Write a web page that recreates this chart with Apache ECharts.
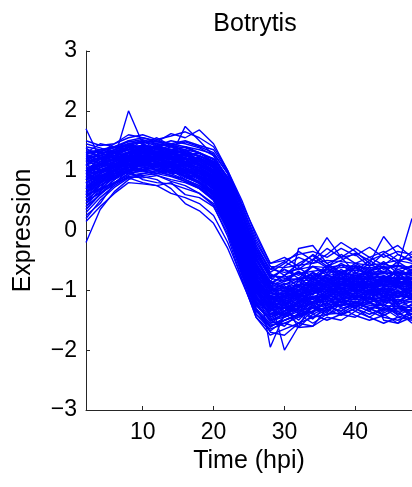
<!DOCTYPE html>
<html>
<head>
<meta charset="utf-8">
<script src="https://cdn.jsdelivr.net/npm/echarts@6/dist/echarts.min.js"></script>
<style>
html,body{margin:0;padding:0;background:#fff;}
#chart{width:412px;height:487px;}
</style>
</head>
<body>
<div id="chart"></div>
<script>
var times = [2,4,6,8,10,12,14,16,18,20,22,24,26,28,30,32,34,36,38,40,42,44,46,48];
var xTickValues = [10,20,30,40];
var yTickValues = [-3,-2,-1,0,1,2,3];

var profiles = [
[1.25,1.28,1.35,1.42,1.40,1.38,1.36,1.30,1.24,1.15,0.80,0.25,-0.40,-0.80,-0.85,-0.80,-0.75,-0.70,-0.68,-0.66,-0.70,-0.68,-0.72,-0.70],
[0.55,0.75,0.90,1.00,1.02,1.05,1.00,0.95,0.85,0.65,0.15,-0.55,-1.15,-1.40,-1.35,-1.25,-1.20,-1.15,-1.10,-1.08,-1.12,-1.15,-1.10,-1.12],
[0.95,1.05,1.12,1.20,1.25,1.22,1.18,1.12,1.05,0.92,0.50,-0.15,-0.80,-1.10,-1.12,-1.02,-0.98,-0.92,-0.90,-0.88,-0.92,-0.90,-0.88,-0.92],
[1.10,1.15,1.25,1.30,1.32,1.28,1.25,1.20,1.15,1.02,0.62,0.05,-0.60,-0.98,-1.02,-0.95,-0.90,-0.85,-0.80,-0.82,-0.80,-0.78,-0.82,-0.80],
[0.70,0.85,0.98,1.08,1.10,1.12,1.08,1.00,0.92,0.75,0.30,-0.38,-0.98,-1.25,-1.22,-1.15,-1.10,-1.05,-1.02,-1.00,-1.00,-1.02,-1.05,-1.00],
[1.70,1.20,1.25,1.35,1.38,1.30,1.28,1.22,1.10,0.98,0.55,-0.10,-0.75,-1.05,-1.08,-1.00,-0.92,-0.90,-0.85,-0.88,-0.85,-0.82,-0.80,-0.85],
[-0.20,0.35,0.65,0.85,0.95,1.00,0.98,0.92,0.80,0.62,0.20,-0.45,-1.05,-1.30,-1.28,-1.20,-1.12,-1.08,-1.05,-1.02,-1.05,-1.08,-1.05,-1.10],
[1.05,1.12,1.20,2.00,1.45,1.35,1.30,1.25,1.18,1.05,0.65,0.00,-0.65,-1.00,-1.00,-0.95,-0.90,-0.88,-0.85,-0.85,-0.88,-0.86,-0.84,-0.88],
[0.85,0.98,1.08,1.15,1.18,1.20,1.25,1.74,1.50,1.25,0.85,0.30,-0.35,-0.75,-0.80,-0.82,-0.78,-0.75,-0.72,-0.75,-0.72,-0.70,-0.75,-0.72],
[0.60,0.70,0.80,0.95,0.90,0.85,0.70,0.45,0.33,0.12,-0.30,-0.85,-1.40,-1.60,-1.50,-1.42,-1.35,-1.30,-1.25,-1.22,-1.28,-1.32,-1.30,-1.28],
[1.30,1.35,1.40,1.48,1.52,1.45,1.40,1.35,1.30,1.20,0.90,0.35,-0.25,-0.65,-0.70,-0.65,-0.60,-0.62,-0.58,-0.60,-0.62,-0.60,-0.58,-0.62],
[0.40,0.60,0.80,0.95,1.00,1.02,0.98,0.90,0.78,0.58,0.05,-0.65,-1.25,-1.50,-1.45,-1.35,-1.28,-1.22,-1.18,-1.15,-1.18,-1.20,-1.22,-1.18],
[1.00,1.08,1.15,1.22,1.28,1.30,1.22,1.15,1.10,0.95,0.52,-0.18,-0.85,-1.18,-1.15,-1.08,-1.02,-0.98,-0.95,-0.92,-0.95,-0.98,-0.95,-0.92],
[0.80,0.95,1.05,1.12,1.15,1.18,1.12,1.08,0.98,0.85,0.40,-0.25,-0.88,-1.15,-1.18,-1.10,-1.05,-1.00,-0.98,-0.95,-0.95,-0.92,-0.95,-0.98],
[1.15,1.20,1.28,1.35,1.35,1.32,1.28,1.25,1.20,1.08,0.70,0.10,-0.55,-0.92,-0.95,-0.90,-0.85,-0.80,-0.78,-0.75,-0.78,-0.76,-0.80,-0.78],
[0.50,0.70,0.88,1.00,1.05,1.08,1.05,1.00,0.90,0.72,0.25,-0.45,-1.10,-1.38,-1.40,-1.30,-1.22,-1.18,-1.12,-1.10,-1.15,-1.12,-1.18,-1.15],
[0.90,1.02,1.10,1.16,1.18,1.15,1.12,1.08,1.00,0.86,0.42,-0.22,-0.85,-1.12,-2.00,-1.60,-1.20,-1.05,-1.00,-0.98,-1.00,-0.98,-1.02,-1.00],
[1.20,1.25,1.30,1.35,1.30,1.28,1.25,1.18,1.12,0.98,0.60,-0.05,-0.70,-1.95,-1.40,-1.20,-1.00,-0.95,-0.92,-0.90,-0.88,-0.90,-0.92,-0.90],
[0.75,0.88,1.00,1.10,1.12,1.10,1.05,0.98,0.90,0.78,0.35,-0.30,-0.95,-1.25,-1.20,-0.30,-0.25,-0.55,-0.70,-0.75,-0.80,-0.78,-0.82,-0.80],
[1.05,1.10,1.18,1.25,1.22,1.25,1.20,1.12,1.05,0.90,0.48,-0.12,-0.78,-1.08,-1.05,-0.95,-0.50,-0.12,-0.45,-0.70,-0.75,-0.72,-0.70,-0.75],
[0.65,0.82,0.95,1.05,1.08,1.10,1.05,1.00,0.95,0.80,0.38,-0.28,-0.90,-1.20,-1.25,-1.62,-1.60,-1.30,-1.15,-1.10,-1.12,-1.15,-1.10,-1.12],
[1.00,1.08,1.15,1.20,1.22,1.20,1.15,1.12,1.05,0.90,0.48,-0.18,-0.80,-1.10,-1.10,-1.05,-1.00,-0.95,-0.90,-0.60,-0.75,-0.90,-0.60,0.20],
[0.85,0.95,1.05,1.15,1.18,1.15,1.10,1.05,0.98,0.85,0.45,-0.20,-0.82,-1.15,-1.12,-1.05,-1.02,-0.98,-0.95,-0.92,-0.95,-1.50,-1.55,-1.30],
[1.35,1.30,1.32,1.40,1.42,1.40,1.35,1.30,1.25,1.10,0.72,0.15,-0.50,-0.88,-0.90,-0.85,-0.82,-0.78,-0.75,-0.72,-0.75,-0.72,-0.70,-0.72],
[0.45,0.65,0.85,0.98,1.02,1.05,1.00,0.92,0.82,0.65,0.20,-0.50,-1.12,-1.40,-1.38,-1.28,-1.22,-1.18,-1.15,-1.12,-1.15,-1.18,-1.15,-1.20],
[0.95,1.00,1.08,1.15,1.20,1.25,1.22,1.15,1.08,0.95,0.55,-0.08,-0.72,-1.05,-1.08,-1.00,-0.95,-0.90,-0.88,-0.88,-0.90,-0.88,-0.86,-0.90],
[1.12,1.18,1.22,1.28,1.30,1.35,1.30,1.25,1.18,1.05,0.68,0.08,-0.58,-0.95,-0.98,-0.92,-0.88,-0.85,-0.82,-0.80,-0.82,-0.85,-0.82,-0.80],
[0.72,0.90,1.02,1.10,1.12,1.12,1.08,1.02,0.92,0.78,0.32,-0.35,-0.98,-1.28,-1.30,-1.20,-1.15,-1.10,-1.05,-1.05,-1.08,-1.05,-1.08,-1.05],
[0.30,0.55,0.75,0.90,0.95,0.98,0.92,0.85,0.72,0.52,0.02,-0.70,-1.30,-1.55,-1.50,-1.40,-1.30,-1.25,-1.20,-1.18,-1.22,-1.25,-1.28,-1.25],
[1.40,1.35,1.38,1.45,1.50,1.48,1.45,1.40,1.35,1.28,0.95,0.40,-0.20,-0.60,-0.62,-0.58,-0.55,-0.50,-0.52,-0.55,-0.58,-0.55,-0.50,-0.55],
[0.88,0.98,1.08,1.18,1.20,1.18,1.15,1.10,1.02,0.88,0.45,-0.22,-0.85,-1.12,-1.15,-1.08,-1.02,-0.98,-0.95,-0.92,-0.92,-0.95,-0.92,-0.95],
[1.02,1.10,1.18,1.22,1.25,1.22,1.18,1.12,1.05,0.92,0.50,-0.15,-0.80,-1.12,-1.10,-1.02,-0.98,-0.92,-0.88,-0.90,-0.88,-0.85,-0.88,-0.86],
[0.62,0.80,0.92,1.02,1.05,1.08,1.02,0.95,0.88,0.70,0.28,-0.40,-1.02,-1.32,-1.30,-1.22,-1.18,-1.12,-1.08,-1.05,-1.08,-1.10,-1.08,-1.12],
[1.22,1.25,1.32,1.38,1.40,1.38,1.32,1.28,1.20,1.08,0.68,0.05,-0.62,-0.98,-1.00,-0.92,-0.88,-0.82,-0.80,-0.78,-0.80,-0.78,-0.80,-0.82],
[0.80,0.92,1.02,1.12,1.15,1.15,1.10,1.05,0.95,0.82,0.38,-0.28,-0.92,-1.20,-1.18,-1.12,-1.05,-1.02,-0.98,-0.95,-0.98,-1.00,-0.98,-0.96],
[0.98,1.05,1.15,1.25,1.28,1.25,1.20,1.15,1.08,0.95,0.55,-0.10,-0.75,-1.05,-1.05,-0.98,-0.92,-0.88,-0.85,-0.85,-0.85,-0.82,-0.85,-0.88],
[0.20,0.50,0.72,0.88,0.92,0.95,0.90,0.82,0.70,0.50,0.00,-0.72,-1.35,-1.58,-1.55,-1.45,-1.35,-1.28,-1.25,-1.20,-1.25,-1.30,-1.35,-1.32],
[1.28,1.32,1.38,1.42,1.48,1.45,1.42,1.38,1.30,1.18,0.82,0.25,-0.38,-0.75,-0.78,-0.72,-0.68,-0.65,-0.62,-0.60,-0.65,-0.62,-0.60,-0.65],
[0.92,1.00,1.12,1.18,1.22,1.18,1.12,1.08,1.00,0.85,0.42,-0.25,-0.88,-1.15,-1.12,-1.05,-1.00,-0.95,-0.92,-0.90,-0.90,-0.92,-0.90,-0.88],
[0.70,0.82,0.95,1.05,1.08,1.08,1.02,0.98,0.90,0.75,0.32,-0.35,-1.00,-1.28,-1.25,-1.18,-1.12,-1.08,-1.02,-1.00,-1.02,-1.05,-1.02,-1.05],
[1.10,1.00,1.05,1.20,1.30,1.15,1.05,0.90,0.80,0.65,0.20,-0.50,-1.20,-1.35,-1.10,-0.85,-0.70,-0.80,-0.95,-1.10,-1.05,-0.85,-0.95,-1.00],
[0.55,0.85,1.10,1.25,1.20,1.30,1.35,1.40,1.30,1.15,0.75,0.10,-0.60,-0.90,-1.25,-1.35,-1.20,-1.00,-0.85,-0.78,-0.90,-1.10,-1.20,-1.05],
[1.45,1.38,1.30,1.25,1.15,1.10,1.08,1.10,1.05,0.85,0.35,-0.35,-1.00,-1.45,-1.30,-1.00,-0.80,-0.65,-0.75,-0.95,-1.15,-1.25,-1.10,-0.85],
[0.35,0.60,0.85,1.05,1.20,1.25,1.20,1.22,1.15,1.00,0.60,-0.05,-0.65,-0.95,-0.85,-0.70,-0.90,-1.15,-1.30,-1.25,-1.05,-0.80,-0.70,-0.90],
[0.95,1.15,1.20,1.10,1.00,0.95,1.00,0.95,0.80,0.58,0.10,-0.55,-1.15,-1.25,-1.05,-1.10,-1.25,-1.35,-1.15,-0.90,-0.75,-0.70,-0.85,-1.10],
[0.75,0.80,1.00,1.30,1.42,1.38,1.25,1.05,0.90,0.82,0.48,-0.05,-0.60,-1.10,-1.40,-1.30,-1.05,-0.85,-0.70,-0.62,-0.72,-0.95,-1.25,-1.40],
[1.20,1.10,1.20,1.30,1.25,1.40,1.45,1.30,1.10,0.95,0.55,-0.20,-0.95,-1.30,-1.45,-1.20,-0.95,-0.75,-0.85,-1.00,-1.20,-1.35,-1.20,-1.00],
[0.60,0.95,1.15,1.25,1.35,1.30,1.20,1.15,1.18,1.05,0.70,0.15,-0.45,-0.85,-0.95,-1.05,-1.15,-1.05,-0.90,-0.80,-0.68,-0.62,-0.75,-0.95],
[1.00,0.90,0.95,1.05,1.10,1.20,1.28,1.20,1.00,0.75,0.25,-0.45,-1.10,-1.40,-1.25,-1.00,-0.80,-0.95,-1.20,-1.30,-1.15,-0.95,-0.80,-0.75],
[0.85,1.10,1.30,1.40,1.30,1.20,1.10,1.00,0.95,0.90,0.60,0.05,-0.55,-0.95,-1.20,-1.40,-1.35,-1.10,-0.90,-0.75,-0.85,-1.05,-1.25,-1.35],
[1.15,1.22,1.25,1.30,1.35,1.30,1.28,1.20,1.15,1.00,0.62,0.00,-0.62,-0.85,-0.60,-0.45,-0.55,-0.40,-0.20,-0.35,-0.55,-0.10,-0.40,-0.50],
[0.70,0.85,0.95,1.05,1.08,1.00,0.95,0.85,0.75,0.60,0.15,-0.60,-1.30,-1.70,-1.75,-1.55,-1.45,-1.40,-1.38,-1.25,-1.35,-1.45,-1.50,-1.40],
[1.05,0.95,1.15,1.28,1.18,1.32,1.20,1.28,1.10,0.98,0.58,-0.08,-0.70,-1.05,-0.92,-1.15,-0.85,-1.00,-0.80,-1.05,-0.88,-1.10,-0.82,-0.98],
[0.65,0.92,0.85,1.10,1.25,1.05,1.15,0.95,1.00,0.72,0.30,-0.42,-1.05,-1.30,-1.42,-1.15,-1.30,-1.05,-1.20,-0.95,-1.15,-1.00,-1.20,-1.05],
[1.25,1.10,1.30,1.20,1.45,1.30,1.40,1.25,1.30,1.12,0.75,0.18,-0.45,-0.90,-0.75,-0.95,-0.70,-0.85,-0.65,-0.80,-0.62,-0.85,-0.68,-0.80],
[0.40,0.70,1.00,0.95,1.15,1.10,0.95,1.05,0.85,0.70,0.18,-0.55,-1.18,-1.45,-1.30,-1.50,-1.25,-1.38,-1.15,-1.30,-1.10,-1.28,-1.40,-1.22],
[0.90,1.15,1.05,1.25,1.10,1.28,1.15,1.20,0.98,0.90,0.40,-0.30,-0.92,-1.22,-1.05,-0.90,-1.08,-0.85,-1.00,-0.82,-1.00,-0.78,-0.95,-0.85],
[1.15,1.30,1.20,1.40,1.30,1.45,1.30,1.35,1.15,1.05,0.65,0.02,-0.62,-0.95,-1.10,-0.85,-0.98,-0.72,-0.90,-0.70,-0.92,-0.75,-0.90,-0.78],
[0.75,0.65,0.95,1.00,1.20,1.00,1.10,0.90,0.92,0.68,0.22,-0.48,-1.15,-1.40,-1.20,-1.35,-1.12,-1.25,-1.05,-1.22,-1.02,-1.18,-1.00,-1.15],
[1.00,1.20,1.25,1.15,1.35,1.25,1.12,1.28,1.08,0.95,0.52,-0.12,-0.78,-1.15,-1.00,-1.12,-0.90,-1.05,-0.88,-0.98,-0.82,-1.05,-0.92,-1.08],
[0.50,0.80,0.90,1.12,1.00,1.15,1.05,0.88,0.80,0.60,0.08,-0.62,-1.25,-1.48,-1.35,-1.20,-1.38,-1.15,-1.25,-1.08,-1.20,-1.35,-1.15,-1.30],
[1.32,1.25,1.40,1.35,1.50,1.35,1.42,1.32,1.25,1.15,0.78,0.20,-0.42,-0.78,-0.65,-0.80,-0.60,-0.75,-0.58,-0.72,-0.55,-0.70,-0.52,-0.68],
[0.85,1.00,0.95,1.20,1.12,1.22,1.30,1.15,1.12,0.98,0.58,-0.05,-0.68,-1.00,-1.20,-1.05,-1.15,-0.92,-1.05,-0.85,-1.00,-0.90,-1.05,-0.92],
[0.25,0.45,0.80,0.92,1.05,0.95,1.02,0.85,0.75,0.55,0.05,-0.68,-1.32,-1.62,-1.45,-1.32,-1.48,-1.25,-1.35,-1.20,-1.32,-1.22,-1.42,-1.30],
[1.10,1.22,1.18,1.32,1.22,1.38,1.25,1.18,1.22,1.05,0.62,0.00,-0.65,-1.02,-0.88,-1.02,-0.78,-0.92,-0.75,-0.90,-0.78,-0.92,-0.72,-0.88],
[0.95,0.85,1.10,1.05,1.30,1.15,1.08,1.12,0.95,0.80,0.35,-0.32,-0.95,-1.25,-1.10,-1.25,-1.00,-1.15,-0.95,-1.10,-0.92,-1.12,-1.00,-1.15],
[0.60,0.88,1.00,1.18,1.10,1.20,1.10,1.00,0.95,0.78,0.32,-0.38,-1.00,-1.35,-1.15,-1.05,-1.20,-1.00,-1.10,-0.92,-1.08,-0.95,-1.12,-1.00],
[1.18,1.05,1.22,1.15,1.38,1.25,1.35,1.20,1.18,1.08,0.70,0.08,-0.55,-0.92,-0.82,-0.68,-0.85,-0.65,-0.80,-0.62,-0.78,-0.60,-0.78,-0.65],
[0.80,1.05,1.12,1.08,1.25,1.30,1.18,1.10,1.05,0.88,0.45,-0.25,-0.90,-1.20,-1.35,-1.10,-0.95,-1.12,-0.95,-1.15,-0.98,-1.20,-1.05,-0.95],
[1.38,1.20,1.30,1.45,1.35,1.40,1.32,1.40,1.28,1.20,0.85,0.28,-0.32,-0.72,-0.85,-0.70,-0.82,-0.62,-0.75,-0.58,-0.70,-0.55,-0.65,-0.60],
[0.45,0.75,0.92,0.98,1.12,1.05,0.98,0.92,0.82,0.62,0.12,-0.58,-1.20,-1.52,-1.38,-1.45,-1.28,-1.42,-1.22,-1.35,-1.18,-1.38,-1.25,-1.45],
[1.00,1.12,1.05,1.22,1.30,1.18,1.25,1.08,1.05,0.92,0.50,-0.15,-0.82,-1.10,-0.95,-1.08,-0.88,-0.78,-0.92,-0.75,-0.90,-0.78,-0.95,-0.82],
[0.70,0.95,1.08,1.00,1.18,1.08,1.15,1.05,0.88,0.76,0.28,-0.42,-1.08,-1.35,-1.25,-1.10,-1.25,-1.10,-1.28,-1.05,-1.22,-1.08,-1.25,-1.10],
[1.20,1.35,1.28,1.38,1.28,1.42,1.35,1.28,1.25,1.12,0.75,0.15,-0.48,-0.85,-0.98,-0.82,-0.72,-0.88,-0.70,-0.85,-0.68,-0.82,-0.65,-0.75],
[0.90,0.82,1.02,1.15,1.22,1.12,1.20,1.15,1.02,0.82,0.38,-0.28,-0.92,-1.18,-1.02,-1.18,-1.05,-0.95,-1.08,-0.90,-1.05,-0.95,-1.12,-1.02],
[0.35,0.62,0.78,1.02,0.98,1.10,0.95,0.98,0.78,0.58,0.10,-0.62,-1.22,-1.50,-1.60,-1.38,-1.25,-1.35,-1.18,-1.28,-1.10,-1.25,-1.38,-1.48],
[1.08,1.25,1.15,1.30,1.40,1.28,1.22,1.30,1.12,1.00,0.60,-0.02,-0.65,-1.00,-0.90,-0.80,-0.95,-0.82,-0.98,-0.80,-0.95,-0.85,-0.78,-0.90],
[0.78,0.88,1.05,1.15,1.08,1.22,1.12,1.02,1.00,0.82,0.40,-0.30,-0.95,-1.28,-1.15,-1.28,-1.10,-1.20,-1.02,-1.15,-1.00,-1.10,-0.95,-1.08],
[1.28,1.15,1.35,1.30,1.42,1.38,1.28,1.35,1.22,1.10,0.72,0.12,-0.50,-0.88,-0.75,-0.62,-0.78,-0.58,-0.72,-0.55,-0.68,-0.52,-0.72,-0.58],
[0.55,0.78,0.95,1.08,1.15,1.00,1.08,0.95,0.88,0.68,0.22,-0.50,-1.12,-1.42,-1.28,-1.38,-1.20,-1.30,-1.12,-1.25,-1.35,-1.15,-1.28,-1.18],
[1.50,1.42,1.45,1.55,1.60,1.52,1.58,1.65,1.55,1.40,1.00,0.50,-0.10,-0.55,-0.50,-0.40,-0.35,-0.45,-0.30,-0.42,-0.28,-0.45,-0.35,-0.40],
[0.15,0.40,0.62,0.80,0.78,0.75,0.62,0.55,0.45,0.25,-0.20,-0.80,-1.45,-1.75,-1.65,-1.55,-1.60,-1.45,-1.50,-1.35,-1.45,-1.55,-1.45,-1.50],
[1.10,1.30,1.45,1.60,1.55,1.48,1.62,1.55,1.68,1.45,1.00,0.45,-0.05,-0.55,-0.45,-0.60,-0.40,-0.55,-0.45,-0.30,-0.45,-0.35,-0.50,-0.45],
[0.60,0.68,0.80,0.88,0.80,0.75,0.80,0.60,0.55,0.40,-0.05,-0.75,-1.40,-1.65,-1.55,-1.62,-1.40,-1.50,-1.40,-1.45,-1.30,-1.40,-1.55,-1.45],
[1.00,1.20,1.35,1.50,1.45,1.55,1.42,1.48,1.40,1.30,0.95,0.35,-0.25,-0.70,-0.55,-0.35,-0.50,-0.30,-0.45,-0.40,-0.60,-0.38,-0.25,-0.45],
[0.80,0.90,0.95,1.00,0.85,0.80,0.78,0.70,0.62,0.45,0.00,-0.70,-1.35,-1.55,-1.40,-1.55,-1.35,-1.20,-1.40,-1.30,-1.45,-1.30,-1.35,-1.55],
[1.30,1.45,1.40,1.50,1.55,1.50,1.45,1.50,1.42,1.35,0.98,0.42,-0.15,-0.60,-0.75,-0.55,-0.42,-0.60,-0.50,-0.38,-0.50,-0.40,-0.55,-0.35],
[0.50,0.62,0.78,0.90,0.88,0.92,0.82,0.75,0.62,0.42,-0.10,-0.82,-1.45,-1.68,-1.50,-1.40,-1.55,-1.40,-1.30,-1.42,-1.50,-1.42,-1.30,-1.40],
[0.95,1.10,1.18,1.30,1.38,1.32,1.28,1.25,1.20,1.12,0.80,0.25,-0.30,-0.80,-0.65,-0.75,-0.60,-0.70,-0.55,-0.68,-0.50,-0.65,-0.58,-0.70],
[0.85,0.92,1.00,1.05,1.00,0.92,0.85,0.80,0.70,0.52,0.05,-0.62,-1.25,-1.45,-1.35,-1.25,-1.40,-1.28,-1.35,-1.18,-1.30,-1.42,-1.30,-1.35],
[1.20,1.28,1.35,1.45,1.48,1.42,1.50,1.45,1.38,1.25,0.88,0.30,-0.30,-0.65,-0.52,-0.65,-0.48,-0.62,-0.40,-0.55,-0.45,-0.58,-0.40,-0.52],
[0.65,0.75,0.88,0.98,0.95,1.00,0.92,0.82,0.72,0.55,0.08,-0.60,-1.22,-1.50,-1.40,-1.30,-1.45,-1.32,-1.42,-1.30,-1.40,-1.30,-1.45,-1.38]
];

var titleText = 'Botrytis';
var xName = 'Time (hpi)';
var yName = 'Expression';

var FONT = '"Liberation Sans", Arial, Helvetica, sans-serif';
var axisColor = '#262626';

var series = profiles.map(function (p) {
  return {
    type: 'line',
    data: times.map(function (t, i) { return [t, p[i]]; }),
    symbol: 'none',
    silent: true,
    animation: false,
    lineStyle: { color: '#0000ff', width: 1.4 },
    emphasis: { disabled: true },
    z: 1
  };
});

var chart = echarts.init(document.getElementById('chart'), null, { renderer: 'canvas' });
chart.setOption({
  backgroundColor: '#ffffff',
  animation: false,
  title: {
    text: titleText,
    left: 250,
    top: 7,
    textAlign: 'center',
    textStyle: { fontFamily: FONT, fontSize: 25, fontWeight: 'normal', color: '#000' }
  },
  grid: { left: 86, right: -2, top: 51, bottom: 77, containLabel: false },
  xAxis: {
    type: 'value',
    min: 2,
    max: 48,
    name: xName,
    nameLocation: 'middle',
    nameGap: 38,
    nameTextStyle: { fontFamily: FONT, fontSize: 25, color: '#000' },
    axisLine: { show: true, onZero: false, lineStyle: { color: axisColor, width: 1 } },
    axisTick: { show: true, inside: true, length: 4, customValues: xTickValues, lineStyle: { color: axisColor } },
    axisLabel: { show: true, customValues: xTickValues, margin: 11, fontFamily: FONT, fontSize: 23, color: '#000' },
    splitLine: { show: false }
  },
  yAxis: {
    type: 'value',
    min: -3,
    max: 3,
    interval: 1,
    name: yName,
    nameLocation: 'middle',
    nameGap: 50,
    nameRotate: 90,
    nameTextStyle: { fontFamily: FONT, fontSize: 25, color: '#000' },
    axisLine: { show: true, onZero: false, lineStyle: { color: axisColor, width: 1 } },
    axisTick: { show: true, inside: true, length: 4, customValues: yTickValues, lineStyle: { color: axisColor } },
    axisLabel: {
      show: true, margin: 9, fontFamily: FONT, fontSize: 23, color: '#000',
      customValues: yTickValues,
      formatter: function (v) { return String(v).replace('-', '\u2212'); }
    },
    splitLine: { show: false }
  },
  series: series
});
</script>
</body>
</html>
